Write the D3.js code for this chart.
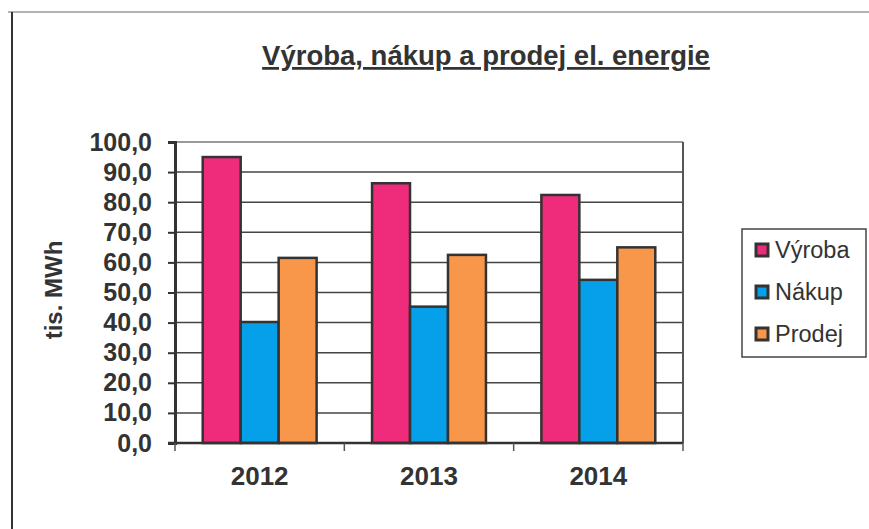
<!DOCTYPE html>
<html>
<head>
<meta charset="utf-8">
<script src="https://cdn.jsdelivr.net/npm/d3@7"></script>
<style>
body { margin:0; background:#fff; }
svg text { font-family: "Liberation Sans", Arial, sans-serif; fill:#333; }
</style>
</head>
<body>
<div id="chart"></div>
<script>
// data
var years = ["2012", "2013", "2014"];
var series = ["Výroba", "Nákup", "Prodej"];
var vyroba = [95.0, 86.3, 82.4];
var nakup = [40.2, 45.3, 54.2];
var prodej = [61.5, 62.5, 65.0];
var yTicks = [0, 10, 20, 30, 40, 50, 60, 70, 80, 90, 100];
var colors = ["#ef2b7c", "#069fe9", "#f8964a"];

var w = 869, h = 529;
var vis = d3.select("div#chart").append("svg")
    .attr("width", w)
    .attr("height", h);

// scanned page frame
vis.append("line").attr("x1", 8).attr("x2", w).attr("y1", 12).attr("y2", 12)
   .attr("stroke", "#999").attr("stroke-width", 1.5);
vis.append("line").attr("x1", 12).attr("x2", 12).attr("y1", 12).attr("y2", h)
   .attr("stroke", "#333").attr("stroke-width", 2);

var pLeft = 175, pRight = 683, pTop = 142, pBottom = 443;

var x0 = d3.scaleBand().domain(years).range([pLeft, pRight]).padding(0);
var x1 = d3.scaleBand().domain(series).range([0, x0.bandwidth()])
    .paddingInner(0).paddingOuter(0.73);
var y = d3.scaleLinear().domain([0, 100]).range([pBottom, pTop]);

// gridlines
vis.append("g").selectAll("line").data(yTicks.slice(1))
   .enter().append("line")
   .attr("x1", pLeft).attr("x2", pRight)
   .attr("y1", function(d){ return y(d); })
   .attr("y2", function(d){ return y(d); })
   .attr("stroke", function(d){ return d == 100 ? "#777" : "#444"; })
   .attr("stroke-width", 1.5);

// right border
vis.append("line").attr("x1", pRight).attr("x2", pRight).attr("y1", pTop).attr("y2", pBottom)
   .attr("stroke", "#555").attr("stroke-width", 2);

// bars
var rows = years.map(function(yr, i){
    return { year: yr, vals: [vyroba[i], nakup[i], prodej[i]] };
});
var grp = vis.selectAll("g.year")
    .data(rows).enter().append("g")
    .attr("class", "year")
    .attr("transform", function(d){ return "translate(" + x0(d.year) + ",0)"; });
grp.selectAll("rect")
   .data(function(d){ return d.vals.map(function(v, j){ return { s: series[j], v: v, c: colors[j] }; }); })
   .enter().append("rect")
   .attr("x", function(d){ return x1(d.s); })
   .attr("width", x1.bandwidth())
   .attr("y", function(d){ return y(d.v); })
   .attr("height", function(d){ return pBottom - y(d.v); })
   .attr("fill", function(d){ return d.c; })
   .attr("stroke", "#333")
   .attr("stroke-width", 2.5);

// y axis
var yAxis = d3.axisLeft(y).tickValues(yTicks).tickSize(7).tickPadding(16)
    .tickFormat(function(d){ return d3.format(".1f")(d).replace(".", ","); });
var gy = vis.append("g").attr("transform", "translate(" + pLeft + ",0)").call(yAxis);
gy.select(".domain").attr("stroke", "#333").attr("stroke-width", 3);
gy.selectAll(".tick line").attr("stroke", "#333").attr("stroke-width", 2);
gy.selectAll("text").attr("font-size", 25).attr("font-weight", "bold")
  .attr("fill", "#333").attr("font-family", "Liberation Sans, Arial, sans-serif");

// x axis
var gx = vis.append("g").attr("transform", "translate(0," + pBottom + ")");
gx.append("line").attr("x1", pLeft - 7).attr("x2", pRight).attr("y1", 0).attr("y2", 0)
  .attr("stroke", "#333").attr("stroke-width", 2.5);
gx.selectAll("line.tk").data(x0.domain().map(function(d){ return x0(d); }).concat([pRight]))
  .enter().append("line").attr("class", "tk")
  .attr("x1", function(d){ return d; }).attr("x2", function(d){ return d; })
  .attr("y1", 0).attr("y2", 8)
  .attr("stroke", "#555").attr("stroke-width", 1.5);
gx.selectAll("text").data(years).enter().append("text")
  .attr("x", function(d){ return x0(d) + x0.bandwidth() / 2; })
  .attr("y", 42)
  .attr("text-anchor", "middle")
  .attr("font-size", 26).attr("font-weight", "bold")
  .text(function(d){ return d; });

// y title
vis.append("text")
   .attr("transform", "translate(62,290) rotate(-90)")
   .attr("text-anchor", "middle")
   .attr("font-size", 24).attr("font-weight", "bold")
   .text("tis. MWh");

// title
vis.append("text")
   .attr("x", 486).attr("y", 65)
   .attr("text-anchor", "middle")
   .attr("font-size", 27.5).attr("font-weight", "bold")
   .attr("text-decoration", "underline")
   .text("Výroba, nákup a prodej el. energie");

// legend
var lg = vis.append("g");
lg.append("rect").attr("x", 742).attr("y", 229).attr("width", 124).attr("height", 128)
  .attr("fill", "#fff").attr("stroke", "#444").attr("stroke-width", 1.5);
var li = lg.selectAll("g.item").data(series).enter().append("g")
  .attr("class", "item")
  .attr("transform", function(d, i){ return "translate(756," + (250 + i * 42) + ")"; });
li.append("rect").attr("x", 0).attr("y", -6).attr("width", 12).attr("height", 12)
  .attr("fill", function(d, i){ return colors[i]; })
  .attr("stroke", "#333").attr("stroke-width", 3);
li.append("text").attr("x", 19).attr("y", 0).attr("dy", "0.36em")
  .attr("font-size", 23.5)
  .text(function(d){ return d; });
</script>
</body>
</html>
